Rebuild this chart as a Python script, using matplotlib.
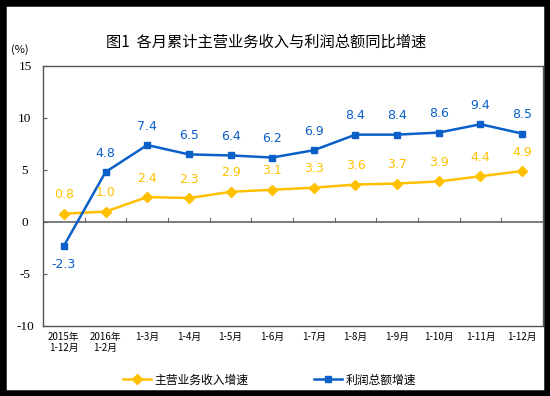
import matplotlib
matplotlib.use("Agg")
import matplotlib.pyplot as plt
from matplotlib.patches import Rectangle

plt.rcParams['font.family'] = ['Noto Sans CJK SC', 'DejaVu Sans']

categories = ["2015年\n1-12月", "2016年\n1-2月", "1-3月", "1-4月", "1-5月", "1-6月",
              "1-7月", "1-8月", "1-9月", "1-10月", "1-11月", "1-12月"]
revenue = [0.8, 1.0, 2.4, 2.3, 2.9, 3.1, 3.3, 3.6, 3.7, 3.9, 4.4, 4.9]
profit = [-2.3, 4.8, 7.4, 6.5, 6.4, 6.2, 6.9, 8.4, 8.4, 8.6, 9.4, 8.5]

yellow = "#FFC000"
blue = "#0A5FC8"

fig = plt.figure(figsize=(5.5, 3.96), dpi=100)
ax = fig.add_axes([43 / 550, 1 - 326 / 396, 500 / 550, 260 / 396])

x = list(range(len(categories)))
l1, = ax.plot(x, revenue, color=yellow, marker="D", markersize=5.5, linewidth=1.8)
l2, = ax.plot(x, profit, color=blue, marker="s", markersize=5, linewidth=1.8)

for i, v in enumerate(revenue):
    ax.annotate(f"{v:.1f}", (i, v), xytext=(0, 9), textcoords="offset points",
                ha="center", va="bottom", color=yellow, fontsize=9, family="DejaVu Sans")
for i, v in enumerate(profit):
    off = -9 if v < 0 else 9
    ax.annotate(f"{v:.1f}", (i, v), xytext=(0, off), textcoords="offset points",
                ha="center", va="top" if v < 0 else "bottom", color=blue, fontsize=9,
                family="DejaVu Sans")

ax.set_xlim(-0.5, 11.5)
ax.set_ylim(-10, 15)
ax.set_yticks([-10, -5, 0, 5, 10, 15])
ax.set_yticklabels(["-10", "-5", "0", "5", "10", "15"], family="Liberation Serif", fontsize=9.5)
ax.tick_params(axis="y", direction="in", length=3, pad=13, color="#555555")
for lab in ax.get_yticklabels():
    lab.set_horizontalalignment("center")
ax.set_xticks(x)
ax.set_xticklabels(categories, fontsize=7)
ax.tick_params(axis="x", length=0, pad=4)

ax.axhline(0, color="#666666", linewidth=1.2, zorder=1)
for b in range(1, len(categories)):
    ax.plot([b - 0.5, b - 0.5], [0, 0.35], color="#666666", linewidth=0.8, zorder=1)

for s in ax.spines.values():
    s.set_color("#555555")
    s.set_linewidth(1)

fig.text(20 / 550, 1 - 50 / 396, "(%)", fontsize=8, ha="center", va="center")
fig.text(266 / 550, 1 - 42 / 396, "图1  各月累计主营业务收入与利润总额同比增速",
         fontsize=11, ha="center", va="center")

fig.legend([l1, l2], ["主营业务收入增速", "利润总额增速"], loc="center",
           bbox_to_anchor=(0.49, 1 - 380 / 396), ncol=2, frameon=False, fontsize=8.5,
           columnspacing=5.5, handlelength=2.4, handletextpad=0.3)

fig.patches.append(Rectangle((0, 0), 1, 1, transform=fig.transFigure, fill=False,
                             edgecolor="black", linewidth=9, zorder=10))

fig.savefig("out.png", dpi=100)
